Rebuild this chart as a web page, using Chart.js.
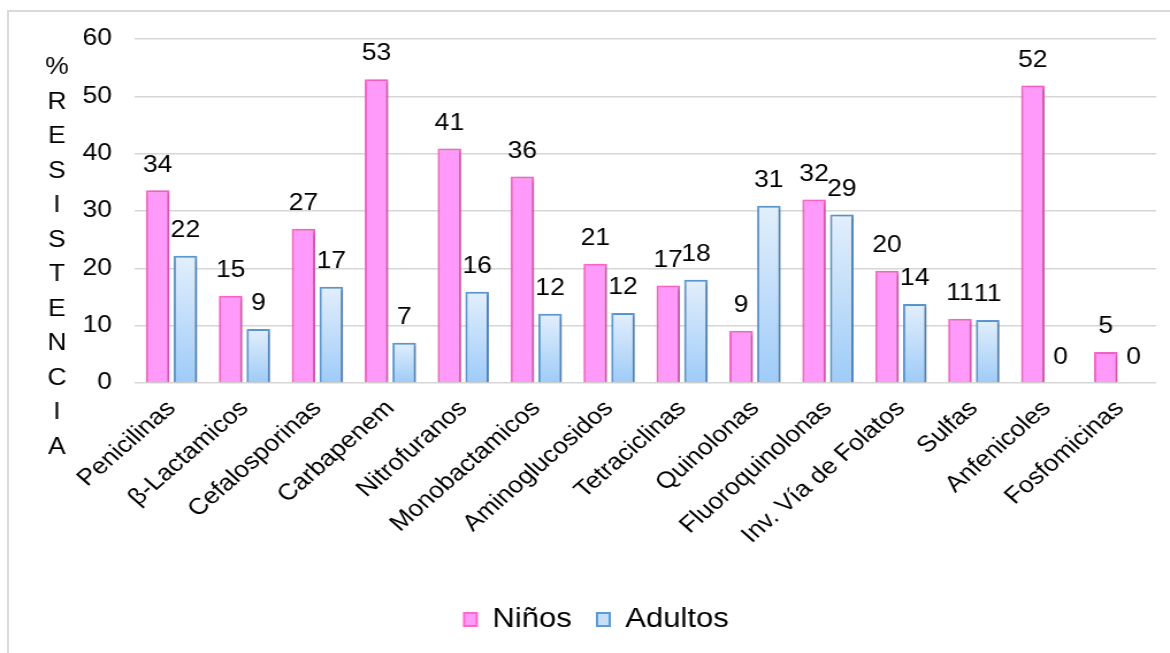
<!DOCTYPE html>
<html>
<head>
<meta charset="utf-8">
<script src="https://cdn.jsdelivr.net/npm/chart.js@4/dist/chart.umd.min.js"></script>
<style>
  html, body { margin: 0; padding: 0; background: #fff; overflow: hidden; }
  #frame { position: absolute; left: 7px; top: 10px; width: 1200px; height: 700px; border: 2px solid #d9d9d9; }
  /* the reference is stretched sideways, so the canvas is too */
  #wrap { position: absolute; left: 0; top: 0; width: 1017px; height: 653px; transform: scaleX(1.1504); transform-origin: 0 0; }
</style>
</head>
<body>
<div id="frame"></div>
<div id="wrap"><canvas id="chart" width="1017" height="653"></canvas></div>
<script>
// datos
const categorias = ['Penicilinas', 'β-Lactamicos', 'Cefalosporinas', 'Carbapenem', 'Nitrofuranos',
  'Monobactamicos', 'Aminoglucosidos', 'Tetraciclinas', 'Quinolonas', 'Fluoroquinolonas',
  'Inv. Vía de Folatos', 'Sulfas', 'Anfenicoles', 'Fosfomicinas'];
const ninos = [33.6, 15.2, 26.9, 53.0, 40.9, 36.0, 20.8, 17.0, 9.1, 32.0, 19.6, 11.2, 51.9, 5.4];
const adultos = [22.2, 9.4, 16.8, 7.0, 15.9, 12.1, 12.2, 18.0, 30.9, 29.4, 13.8, 11.0, 0, 0];
const tituloY = ['%', 'R', 'E', 'S', 'I', 'S', 'T', 'E', 'N', 'C', 'I', 'A'];
const yMin = 0, yMax = 60, yPaso = 10;

const fuente = "'Liberation Sans', Arial, sans-serif";

// degradado azul por barra + sombra
const barrasPlugin = {
  id: 'barras',
  afterLayout(chart) {
    // leyenda un poco a la derecha, como en el original
    chart.legend.left += 16;
    chart.legend.right += 16;
  },
  beforeDatasetsDraw(chart) {
    const ctx = chart.ctx;
    const meta = chart.getDatasetMeta(1);
    meta.data.forEach(el => {
      const g = ctx.createLinearGradient(0, el.y, 0, el.base);
      g.addColorStop(0, '#e3effc');
      g.addColorStop(1, '#9fccf8');
      el.options = Object.assign({}, el.options, { backgroundColor: g });
    });
    ctx.save();
    ctx.shadowColor = 'rgba(0,0,0,0.28)';
    ctx.shadowBlur = 4;
    ctx.shadowOffsetX = 1.5;
    ctx.shadowOffsetY = 1;
  },
  afterDatasetsDraw(chart) {
    chart.ctx.restore();
  }
};

// etiquetas de valores y titulo vertical
const textosPlugin = {
  id: 'textos',
  afterDraw(chart) {
    const ctx = chart.ctx;
    ctx.save();
    ctx.fillStyle = '#000';
    ctx.font = '23px ' + fuente;
    ctx.textAlign = 'center';
    ctx.textBaseline = 'middle';
    chart.data.datasets.forEach((ds, i) => {
      chart.getDatasetMeta(i).data.forEach((el, j) => {
        ctx.fillText(String(Math.round(ds.data[j])), el.x, el.y - 25);
      });
    });
    tituloY.forEach((letra, k) => {
      ctx.fillText(letra, 49.5, 68 + k * 34.5);
    });
    ctx.restore();
  }
};

new Chart(document.getElementById('chart'), {
  type: 'bar',
  data: {
    labels: categorias,
    datasets: [{
      label: 'Niños',
      data: ninos,
      backgroundColor: '#ff9afa',
      borderColor: '#ff66cc',
      borderWidth: 2,
      borderSkipped: 'bottom'
    }, {
      label: 'Adultos',
      data: adultos,
      backgroundColor: '#c4dffa',
      borderColor: '#5e9bd6',
      borderWidth: c => (adultos[c.dataIndex] === 0 ? 0 : 2),
      borderSkipped: 'bottom'
    }]
  },
  options: {
    responsive: false,
    animation: false,
    devicePixelRatio: 1,
    categoryPercentage: 0.76,
    barPercentage: 0.85,
    layout: { padding: { top: 39, right: 12, bottom: 10, left: 0 } },
    scales: {
      x: {
        grid: { display: false },
        border: { display: false },
        ticks: {
          color: '#000',
          font: { size: 23, family: fuente },
          autoSkip: false,
          maxRotation: 45,
          minRotation: 45,
          padding: 4
        },
        afterFit(scale) { scale.height = 201; }
      },
      y: {
        min: yMin,
        max: yMax,
        ticks: {
          stepSize: yPaso,
          color: '#000',
          font: { size: 23, family: fuente },
          padding: 20
        },
        grid: { color: '#d6d6d6', lineWidth: 1.6, drawTicks: false },
        border: { display: false },
        afterFit(scale) { scale.width = 117.4; }
      }
    },
    plugins: {
      legend: {
        position: 'bottom',
        labels: {
          color: '#000',
          font: { size: 27, family: fuente },
          boxWidth: 11,
          boxHeight: 13,
          padding: 22
        }
      },
      tooltip: { enabled: false }
    }
  },
  plugins: [barrasPlugin, textosPlugin]
});
</script>
</body>
</html>
